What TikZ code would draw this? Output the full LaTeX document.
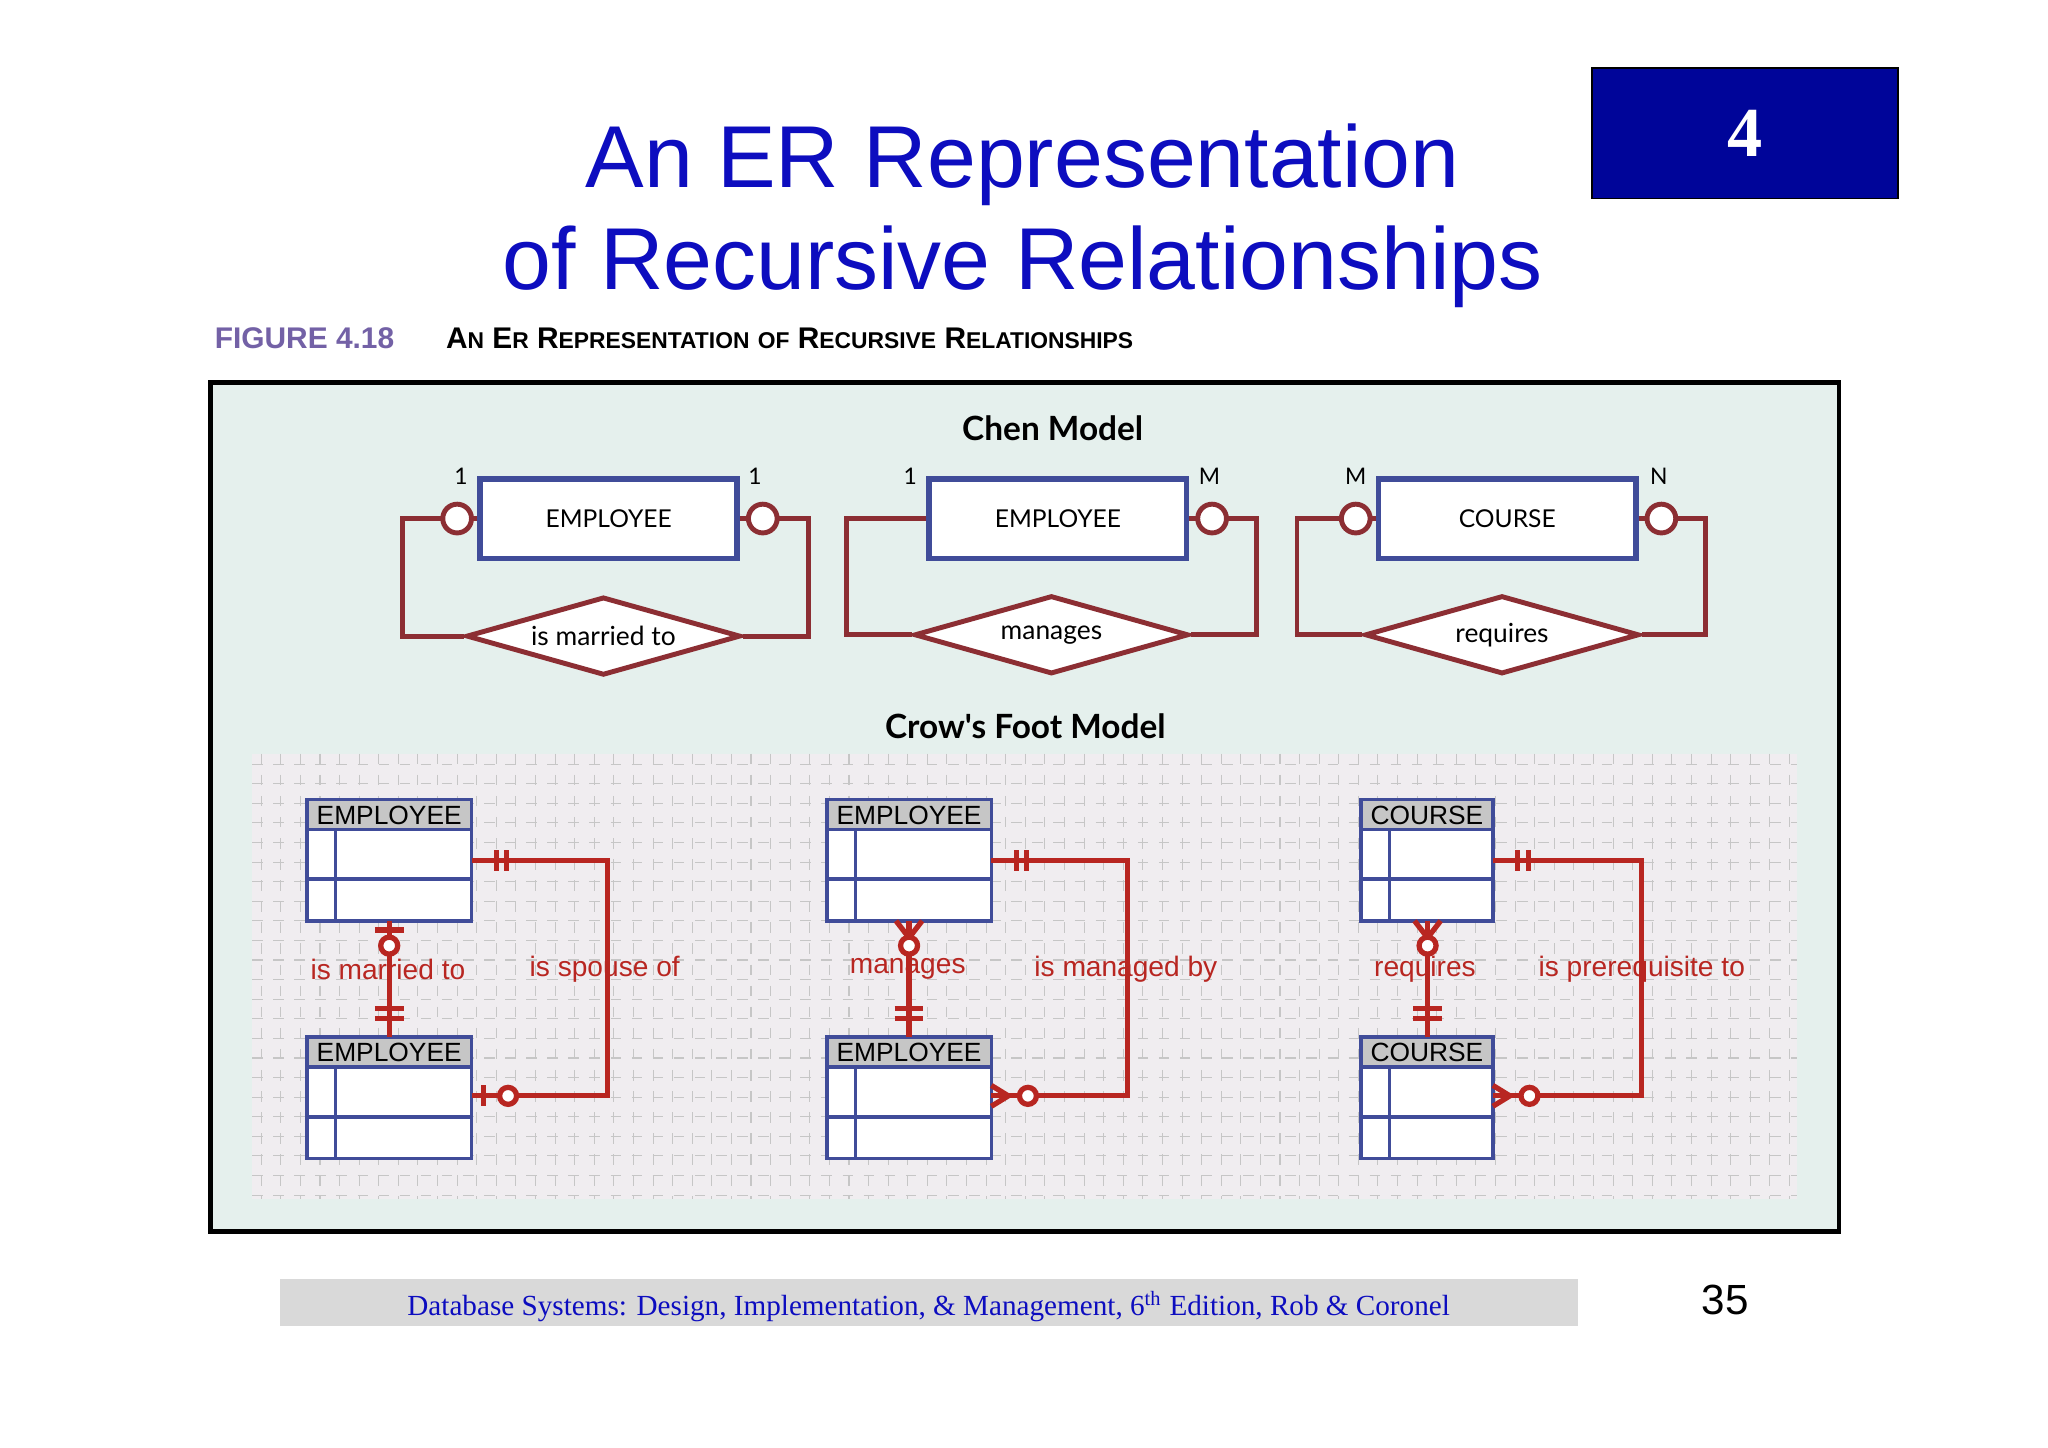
\documentclass[tikz,border=0pt]{standalone}
\usepackage{fontspec}
\setmainfont{Liberation Serif}
\setsansfont{Liberation Sans}
\newfontfamily\chenfont{Lato}
\usetikzlibrary{shapes.geometric}
\definecolor{titleblue}{rgb}{0.05,0.05,0.75}
\definecolor{boxblue}{rgb}{0.0,0.02,0.6}
\definecolor{capurple}{rgb}{0.45,0.38,0.65}
\definecolor{panel}{rgb}{0.9,0.94,0.93}
\definecolor{gridbg}{rgb}{0.94,0.93,0.94}
\definecolor{entblue}{rgb}{0.25,0.3,0.6}
\definecolor{relred}{rgb}{0.55,0.18,0.2}
\definecolor{crowred}{rgb}{0.72,0.15,0.13}
\begin{document}
\begin{tikzpicture}[x=0.013061cm,y=-0.013061cm,
  chen/.style={draw=entblue,line width=1.6pt,fill=white,minimum width=197*0.013061cm,minimum height=61*0.013061cm,font=\chenfont\fontsize{7}{8}\selectfont,inner sep=0pt},
  rel/.style={diamond,draw=relred,line width=1.4pt,fill=white,aspect=3.5,minimum width=210*0.013061cm,minimum height=60*0.013061cm,inner sep=0pt,font=\chenfont\fontsize{7.5}{8}\selectfont},
  rline/.style={draw=relred,line width=1.4pt},
  opt/.style={circle,draw=relred,line width=1.4pt,fill=white,minimum size=22*0.013061cm,inner sep=0pt},
  card/.style={font=\chenfont\fontsize{6.5}{7}\selectfont},
  cf/.style={draw=crowred,line width=1.5pt},
  cfo/.style={circle,draw=crowred,line width=1.5pt,fill=white,minimum size=13*0.013061cm,inner sep=0pt},
  cflab/.style={text=crowred,font=\sffamily\fontsize{8}{9}\selectfont},
  tab/.style={draw=entblue,line width=1pt}]
\useasboundingbox (0,0) rectangle (1568,1108);
\fill[white] (0,0) rectangle (1568,1108);
% header box and title
\node[fill=boxblue,draw=black,minimum width=234*0.013061cm,minimum height=100*0.013061cm,text=white,font=\bfseries\fontsize{20}{22}\selectfont] (num) at (1336,102) {4};
\node[text=titleblue,font=\sffamily\fontsize{25}{29}\selectfont,align=center] (title) at (783,165) {An ER Representation\\of Recursive Relationships};
\node[anchor=west,text=capurple,font=\sffamily\bfseries\fontsize{8.5}{9}\selectfont] (fig) at (155,259) {FIGURE 4.18};
\node[anchor=west,font=\sffamily\bfseries\fontsize{8.5}{9}\selectfont] (cap) at (332,259) {A{\fontsize{6.5}{7}\selectfont N} E{\fontsize{6.5}{7}\selectfont R} R{\fontsize{6.5}{7}\selectfont EPRESENTATION} {\fontsize{6.5}{7}\selectfont OF} R{\fontsize{6.5}{7}\selectfont ECURSIVE} R{\fontsize{6.5}{7}\selectfont ELATIONSHIPS}};
% panel
\draw[fill=panel,line width=1.4pt] (161,293) rectangle (1408,943);
\node[font=\chenfont\bfseries\fontsize{9.5}{10}\selectfont] (chenT) at (806,328) {Chen Model};
% Chen 1
\node[chen] (e1) at (466,397) {EMPLOYEE};
\node[rel] (r1) at (462,487) {is married to};
\draw[rline] (e1.west) -- (338,397);
\draw[rline] (e1.east) -- (596,397);
\draw[rline] (338,397) -- (308,397) -- (308,487) -- (r1.west);
\draw[rline] (r1.east) -- (619,487) -- (619,397) -- (596,397);
\node[opt] (o1a) at (350,397) {};
\node[opt] (o1b) at (584,397) {};
\node[card] at (353,365) {1};
\node[card] at (578,365) {1};
% Chen 2
\node[chen] (e2) at (810,397) {EMPLOYEE};
\node[rel] (r2) at (805,486) {manages};
\draw[rline] (e2.west) -- (648,397) -- (648,486) -- (r2.west);
\draw[rline] (e2.east) -- (962,397) -- (962,486) -- (r2.east);
\node[opt] (o2b) at (928,397) {};
\node[card] at (697,365) {1};
\node[card] at (926,365) {M};
% Chen 3
\node[chen] (e3) at (1154,397) {COURSE};
\node[rel] (r3) at (1150,486) {requires};
\draw[rline] (e3.west) -- (993,397) -- (993,486) -- (r3.west);
\draw[rline] (e3.east) -- (1306,397) -- (1306,486) -- (r3.east);
\node[opt] (o3a) at (1038,397) {};
\node[opt] (o3b) at (1272,397) {};
\node[card] at (1038,365) {M};
\node[card] at (1270,365) {N};
% Crow's foot
\node[font=\chenfont\bfseries\fontsize{9.5}{10}\selectfont] (cfT) at (785,556) {Crow's Foot Model};
\fill[gridbg] (193,577) rectangle (1376,918);
\foreach \gx in {200,215,...,1370} \draw[gray!45,dashed,line width=0.3pt] (\gx,577) -- (\gx,918);
\foreach \gy in {585,600,...,915} \draw[gray!45,dashed,line width=0.3pt] (193,\gy) -- (1376,\gy);
% tables: left x, right x, top y, label
\foreach \l/\r/\t/\n in {235/361/612/EMPLOYEE,235/361/794/EMPLOYEE,633/759/612/EMPLOYEE,633/759/794/EMPLOYEE,1042/1143/612/COURSE,1042/1143/794/COURSE}{
  \fill[white] (\l,\t) rectangle (\r,\t+93);
  \fill[gray!45] (\l,\t) rectangle (\r,\t+23);
  \draw[tab] (\l,\t) rectangle (\r,\t+93);
  \draw[tab] (\l,\t+23) -- (\r,\t+23);
  \draw[tab] (\l,\t+61) -- (\r,\t+61);
  \draw[tab] (\l+22,\t+23) -- (\l+22,\t+93);
  \node[font=\sffamily\fontsize{7.5}{8}\selectfont] at ({(\l+\r)/2},\t+12) {\n};
}
\foreach \cx/\lx/\rx in {298/361/465,696/759/863,1093/1143/1257}{
  \coordinate (top) at (\cx,705);
  \coordinate (bot) at (\cx,794);
  \draw[cf] (top) -- (bot);
  \draw[cf] (\lx,659) -- (\rx,659) -- (\rx,839) -- (\lx,839);
  \draw[cf] (\cx-11,772) -- (\cx+11,772);
  \draw[cf] (\cx-11,780) -- (\cx+11,780);
  \draw[cf] (\lx+19,651) -- (\lx+19,667);
  \draw[cf] (\lx+27,651) -- (\lx+27,667);
}
% left: 1-to-1 optional
\draw[cf] (287,712) -- (309,712);
\node[cfo] at (298,724) {};
\draw[cf] (370,831) -- (370,847);
\node[cfo] at (389,839) {};
% middle: crow feet
\draw[cf] (686,705) -- (696,718) -- (706,705);
\node[cfo] at (696,724) {};
\draw[cf] (759,831) -- (772,839) -- (759,847);
\node[cfo] at (787,839) {};
% right
\draw[cf] (1083,705) -- (1093,718) -- (1103,705);
\node[cfo] at (1093,724) {};
\draw[cf] (1143,831) -- (1156,839) -- (1143,847);
\node[cfo] at (1171,839) {};
% labels
\node[cflab] at (297,742) {is married to};
\node[cflab] at (463,742) {is spouse of};
\node[cflab] at (695,742) {manages};
\node[cflab] at (862,742) {is managed by};
\node[cflab] at (1091,742) {requires};
\node[cflab] at (1257,742) {is prerequisite to};
% footer
\fill[gray!30] (214,979) rectangle (1208,1015);
\node[text=titleblue,font=\fontsize{8.3}{9}\selectfont] (foot) at (711,1000) {Database Systems: Design, Implementation, \& Management, 6\textsuperscript{th} Edition, Rob \& Coronel};
\node[font=\sffamily\fontsize{12}{13}\selectfont] (page) at (1321,995) {35};
\end{tikzpicture}
\end{document}
